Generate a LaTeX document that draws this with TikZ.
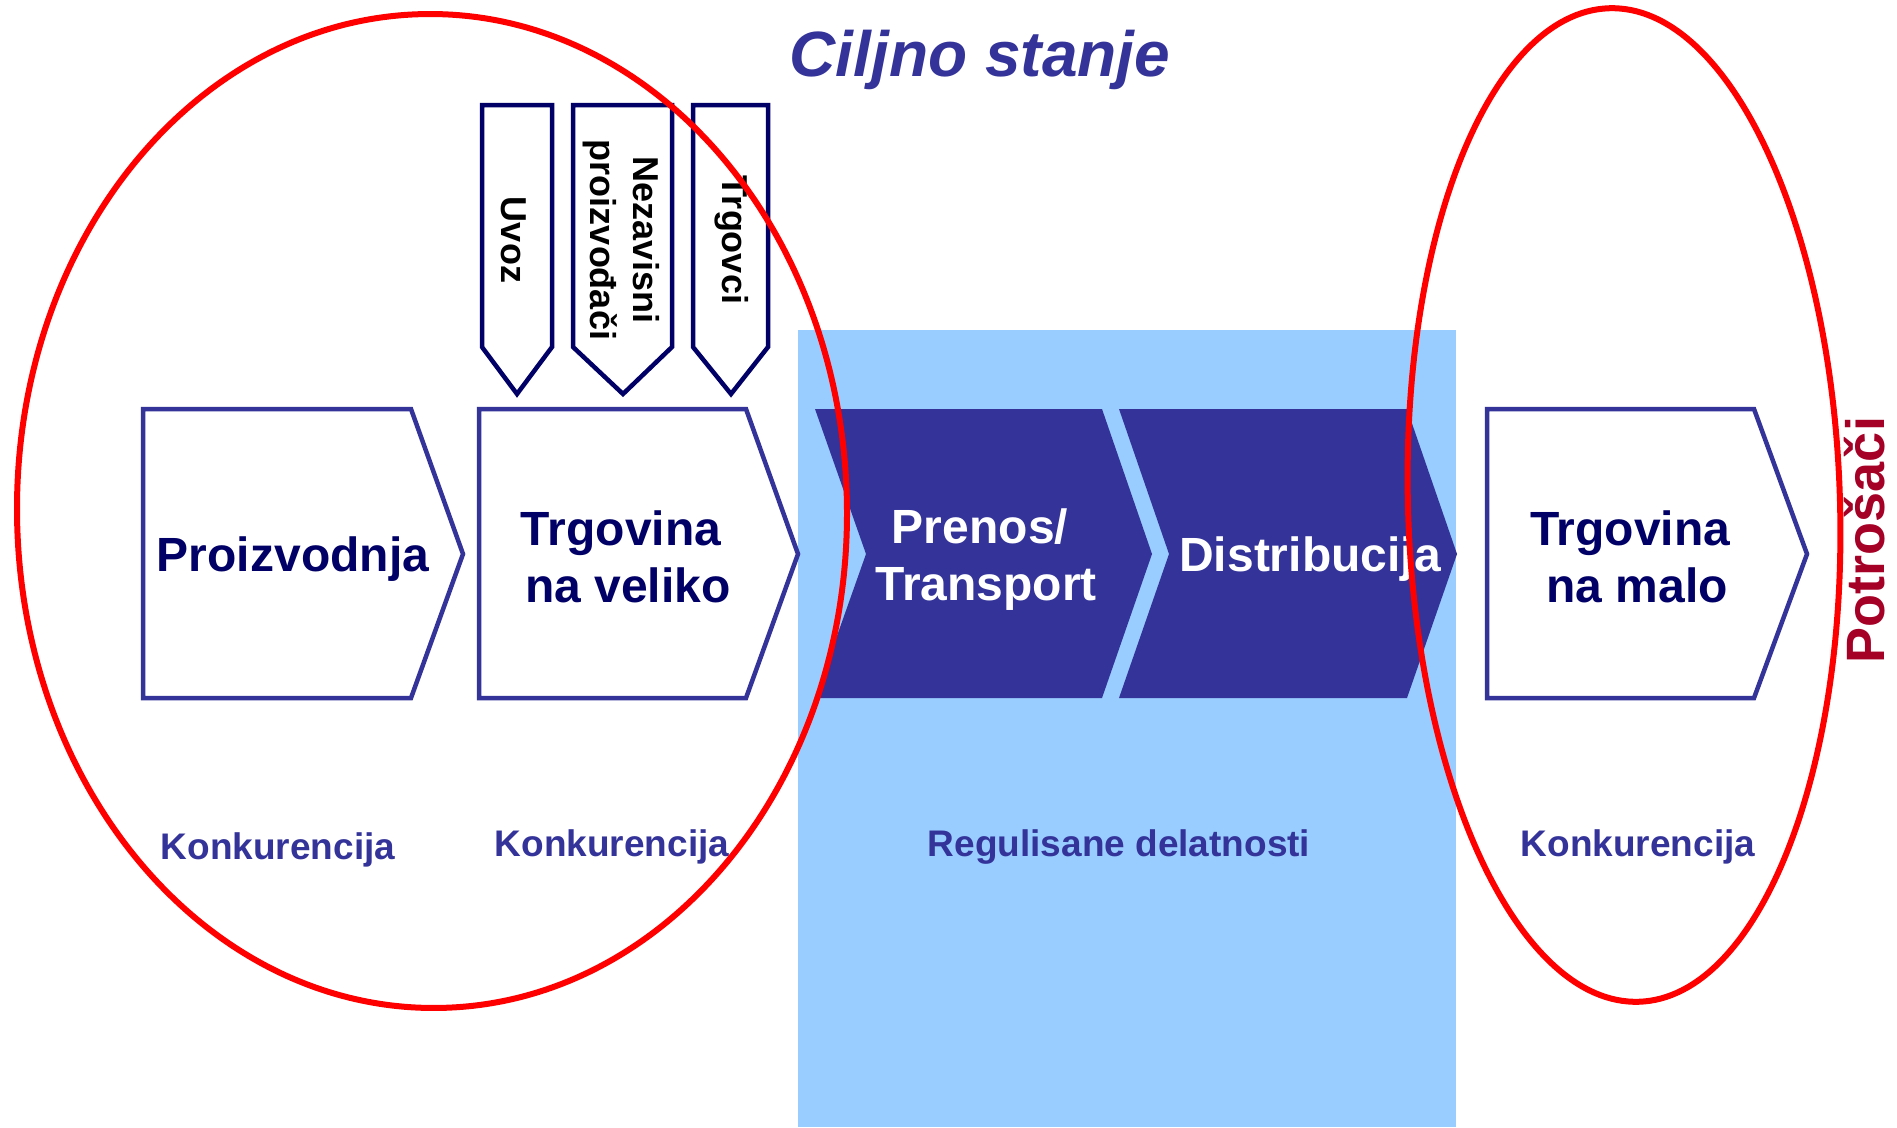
\documentclass[tikz,border=0pt]{standalone}
\usepackage{fontspec}
\setmainfont{Liberation Sans}
\definecolor{navy}{HTML}{000066}
\definecolor{mblue}{HTML}{333399}
\definecolor{lblue}{HTML}{99CCFF}
\definecolor{dred}{HTML}{A50026}
\definecolor{ered}{HTML}{FF0000}
\tikzset{
  wchev/.style={draw=mblue,line width=4.5pt,fill=white,line join=miter},
  dchev/.style={fill=mblue,draw=none},
  darrow/.style={draw=navy,line width=4.5pt,fill=white,line join=miter},
  boxtext/.style={font=\bfseries\fontsize{48}{57}\selectfont,text=navy,align=center,inner sep=0pt},
  whitetext/.style={boxtext,text=white},
  arrtext/.style={font=\bfseries\fontsize{36}{43}\selectfont,text=black,align=center,inner sep=0pt,rotate=-90},
  lowtext/.style={font=\bfseries\fontsize{37}{44}\selectfont,text=mblue,inner sep=0pt},
  oval/.style={draw=ered,line width=6pt}
}
\begin{document}
\begin{tikzpicture}[x=1pt,y=-1pt]
\useasboundingbox (0,0) rectangle (1897,1127);
% regulated area
\fill[lblue] (798,330) rectangle (1456,1127);
% title
\node[font=\bfseries\itshape\fontsize{64}{76}\selectfont,text=mblue,inner sep=0pt] (title) at (980,60) {Ciljno stanje};
% white chevrons
\draw[wchev] (143,409) -- (411,409) -- (463,554) -- (411,698) -- (143,698) -- cycle;
\draw[wchev] (479,409) -- (746,409) -- (798,554) -- (746,698) -- (479,698) -- cycle;
\draw[wchev] (1487,409) -- (1754,409) -- (1807,554) -- (1754,698) -- (1487,698) -- cycle;
% dark chevrons
\fill[dchev] (815,409) -- (1102,409) -- (1152,554) -- (1102,698) -- (815,698) -- (866,554) -- cycle;
\fill[dchev] (1119,409) -- (1407,409) -- (1457,554) -- (1407,698) -- (1119,698) -- (1169,554) -- cycle;
% down arrows
\draw[darrow] (482,105) -- (552,105) -- (552,347) -- (517,394) -- (482,347) -- cycle;
\draw[darrow] (573,105) -- (672,105) -- (672,347) -- (623,394) -- (573,347) -- cycle;
\draw[darrow] (693,105) -- (768,105) -- (768,347) -- (731,394) -- (693,347) -- cycle;
\node[arrtext] (uvoz) at (514,240) {Uvoz};
\node[arrtext] (nez) at (621,240) {Nezavisni\\proizvođači};
\node[arrtext] (trgovci) at (732,240) {Trgovci};
% box texts
\node[boxtext] (proiz) at (293,559) {Proizvodnja};
\node[boxtext] (veliko) at (621,557) {Trgovina\\\hspace*{14pt}na veliko};
\node[whitetext] (prenos) at (986,560) {Prenos/\hspace*{12pt}\\Transport};
\node[whitetext] (distr) at (1310,559) {Distribucija};
\node[boxtext] (malo) at (1630,557) {Trgovina\\\hspace*{14pt}na malo};
% lower labels
\node[lowtext] (k1) at (278,850) {Konkurencija};
\node[lowtext] (k2) at (612,847) {Konkurencija};
\node[lowtext] (reg) at (1119,847) {Regulisane delatnosti};
\node[lowtext] (k3) at (1638,847) {Konkurencija};
% consumers
\node[font=\bfseries\fontsize{54}{62}\selectfont,text=dred,inner sep=0pt,rotate=90] (potr) at (1865,540) {Potrošači};
% ovals
\draw[oval,rotate around={0.7:(432,511)}] (432,511) ellipse [x radius=415,y radius=497];
\draw[oval,rotate around={1.7:(1624,505)}] (1624,505) ellipse [x radius=216,y radius=497];
\end{tikzpicture}
\end{document}
